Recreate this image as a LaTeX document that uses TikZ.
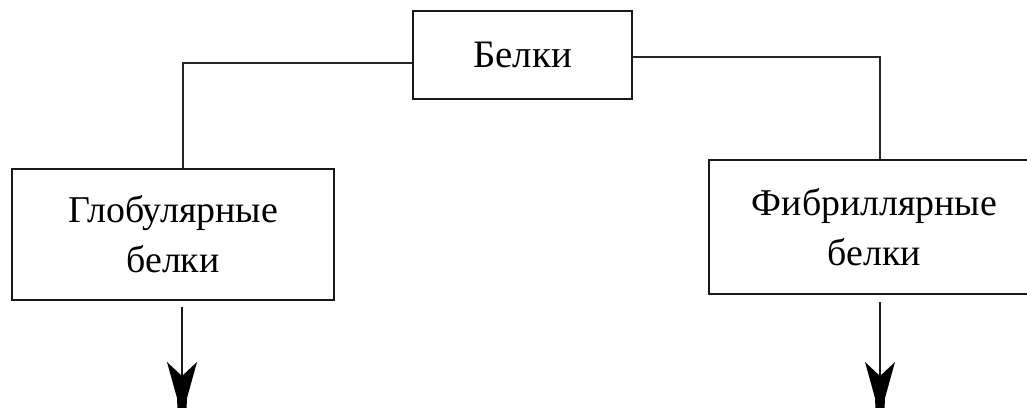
\documentclass[tikz,border=0pt]{standalone}
\usepackage{fontspec}
\setmainfont{Liberation Serif}
\usetikzlibrary{calc}
\tikzset{
  box/.style={draw=black!90, line width=2.4bp, rectangle, inner sep=0pt,
    align=center, font=\fontsize{38}{50}\selectfont, text=black},
  link/.style={draw=black!85, line width=2bp},
  shaft/.style={draw=black!90, line width=1.6bp},
}
\newcommand\headdown[1]{%
  \fill[black] ($(#1)+(-15,-58)$) -- ($(#1)+(0,-44)$) -- ($(#1)+(15,-58)$)
    -- ($(#1)+(5,-22)$) -- ($(#1)+(4,0)$) -- ($(#1)+(-4,0)$)
    -- ($(#1)+(-5,-22)$) -- cycle;}
\begin{document}
\begin{tikzpicture}[x=1bp,y=-1bp]
  \useasboundingbox (0,0) rectangle (1027,407);
  \clip (0,0) rectangle (1027,407);
  \fill[white] (0,0) rectangle (1027,407);

  % boxes
  \node[box, minimum width=219bp, minimum height=88bp,
        font=\fontsize{39}{50}\selectfont] (bel) at (522.5,55) {Белки};
  \node[box, minimum width=322bp, minimum height=131bp] (glob) at (173,234.5)
    {Глобулярные\\белки};
  \node[box, minimum width=331bp, minimum height=134bp] (fib) at (874.5,227)
    {Фибриллярные\\белки};

  % branch points
  \coordinate (jl) at (183,63);
  \coordinate (jr) at (880,57);
  \draw[link] (bel.west |- jl) -- (jl) -- (glob.north -| jl);
  \draw[link] (bel.east |- jr) -- (jr) -- (fib.north -| jr);

  % outgoing arrows
  \coordinate (al) at (182,307);
  \coordinate (tl) at (182,420);
  \coordinate (ar) at (880,302);
  \coordinate (tr) at (880,420);
  \draw[shaft] (al) -- ($(tl)+(0,-40)$);
  \draw[shaft] (ar) -- ($(tr)+(0,-40)$);
  \headdown{tl}
  \headdown{tr}
\end{tikzpicture}
\end{document}
